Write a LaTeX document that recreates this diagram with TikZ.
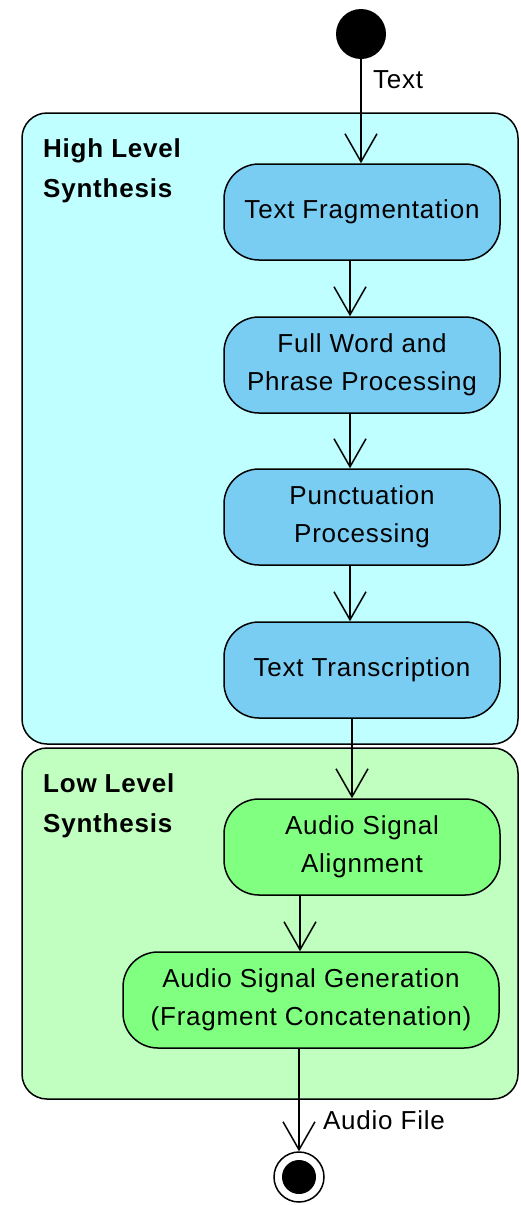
\documentclass[tikz,border=0pt]{standalone}
\usepackage{fontspec}
\setmainfont[LetterSpace=3]{Liberation Sans}
\usepackage{tikz}
\usetikzlibrary{arrows.meta, positioning}

\definecolor{hlsback}{HTML}{BFFFFF}
\definecolor{llsback}{HTML}{C0FFC0}
\definecolor{hlsnode}{HTML}{7ACDF2}
\definecolor{llsnode}{HTML}{80FF80}

\begin{document}
\begin{tikzpicture}[
		x=1pt, y=-1pt,
		lane/.style={
			draw=black,
			line width=1.5pt,
			rounded corners=25pt
		},
		lanetitle/.style={
			anchor=north west,
			inner sep=0pt,
			align=left,
			font=\bfseries\fontsize{26}{40}\selectfont
		},
		action/.style={
			rectangle,
			rounded corners=35pt,
			draw=black,
			line width=1.5pt,
			minimum width=276pt,
			minimum height=96pt,
			align=center,
			font=\fontsize{26}{38}\selectfont
		},
		flowlabel/.style={
			anchor=west,
			font=\fontsize{26}{30}\selectfont
		},
		flow/.style={
			line width=1.5pt,
			-{Straight Barb[length=28pt, width=32pt, line width=1.5pt]},
		}
	]
	
	\useasboundingbox (0,0) rectangle (520,1205);
	
	% swimlanes
	\draw[lane, fill=hlsback] (22,113) rectangle (518,744);
	\draw[lane, fill=llsback] (22,748) rectangle (518,1099);
	\node[lanetitle] (hls) at (43,138) {High Level\\Synthesis};
	\node[lanetitle] (lls) at (43,773) {Low Level\\Synthesis};
	
	\node[circle, fill=black, minimum size=50pt, inner sep=0pt] (start) at (361,34) {};
	
	\node[action, fill=hlsnode] (frag) at (362,212) {Text Fragmentation};
	\node[action, fill=hlsnode] (word) at (362,365) {Full Word and\\Phrase Processing};
	\node[action, fill=hlsnode] (punct) at (362,517) {Punctuation\\Processing};
	\node[action, fill=hlsnode] (trans) at (362,670) {Text Transcription};
	
	\node[action, fill=llsnode] (align) at (362,847) {Audio Signal\\Alignment};
	\node[action, fill=llsnode, minimum width=376pt] (gen) at (311,1000) {Audio Signal Generation\\(Fragment Concatenation)};
	
	\node[circle, draw=black, fill=white, line width=1.5pt, minimum size=50pt, inner sep=0pt] (stop) at (299,1177) {};
	\fill[black] (stop) circle (17pt);
	
	\draw[flow] (start.south) -- (start.south |- frag.north) node[flowlabel, pos=0.2, xshift=8pt] {Text};
	\draw[flow] ([xshift=-12pt]frag.south) -- ([xshift=-12pt]word.north);
	\draw[flow] ([xshift=-12pt]word.south) -- ([xshift=-12pt]punct.north);
	\draw[flow] ([xshift=-12pt]punct.south) -- ([xshift=-12pt]trans.north);
	\draw[flow] ([xshift=-10pt]trans.south) -- ([xshift=-10pt]align.north);
	\draw[flow] ([xshift=-62pt]align.south) -- ([xshift=-11pt]gen.north);
	\draw[flow] ([xshift=-12pt]gen.south) -- (stop.north) node[flowlabel, pos=0.7, xshift=20pt] {Audio File};
	
\end{tikzpicture}
\end{document}
